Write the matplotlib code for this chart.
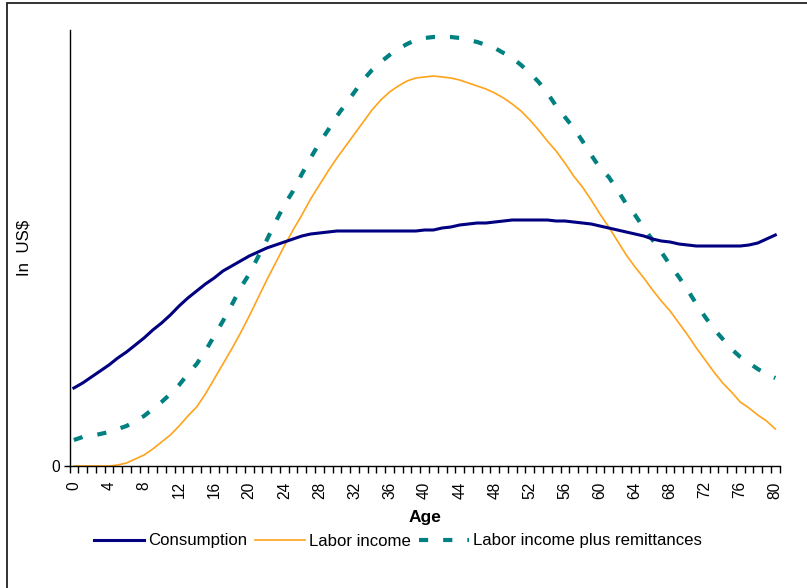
import matplotlib
matplotlib.use("Agg")
import matplotlib.pyplot as plt
from matplotlib.patches import Rectangle
from matplotlib.ticker import FixedLocator, NullFormatter

plt.rcParams['font.family'] = ['Liberation Sans', 'DejaVu Sans']

ages = list(range(0, 81))

consumption = [78, 83, 89, 95, 101, 108, 114, 121, 128, 136,
               143, 151, 160, 168, 175, 182, 188, 195, 200, 205,
               210, 214, 218, 221, 224, 227, 230, 232, 233, 234,
               235, 235, 235, 235, 235, 235, 235, 235, 235, 235,
               236, 236, 238, 239, 241, 242, 243, 243, 244, 245,
               246, 246, 246, 246, 246, 245, 245, 244, 243, 242,
               240, 238, 236, 234, 232, 230, 227, 225, 224, 222,
               221, 220, 220, 220, 220, 220, 220, 221, 223, 227,
               231]

labor_income = [0, 0, 0, 0, 0, 1, 3, 7, 11, 17,
                24, 31, 40, 50, 59, 72, 87, 102, 117, 133,
                150, 168, 186, 203, 220, 236, 251, 267, 281, 295,
                308, 320, 332, 344, 356, 366, 374, 380, 385, 388,
                389, 390, 389, 388, 386, 383, 380, 377, 373, 368,
                362, 355, 346, 336, 325, 315, 303, 290, 279, 266,
                252, 239, 225, 211, 199, 188, 176, 165, 155, 143,
                131, 118, 106, 94, 83, 74, 64, 58, 51, 45,
                37]

labor_plus_remit = [26, 29, 30, 32, 34, 37, 40, 45, 50, 57,
                    64, 72, 81, 92, 102, 115, 130, 145, 161, 178,
                    192, 209, 226, 244, 261, 275, 292, 308, 323, 336,
                    350, 362, 374, 386, 396, 404, 411, 417, 422, 426,
                    428, 429, 429, 429, 428, 426, 424, 421, 418, 413,
                    408, 401, 393, 384, 373, 360, 349, 338, 325, 311,
                    298, 289, 276, 262, 251, 238, 226, 214, 201, 189,
                    176, 162, 149, 137, 127, 117, 109, 103, 97, 92,
                    88]

series_names = ["Consumption", "Labor income", "Labor income plus remittances"]
xtick_labels = [str(a) for a in range(0, 81, 4)]

fig = plt.figure(figsize=(8.07, 5.88), dpi=100)
ax = fig.add_axes([69.5/807, 1-466/588, (779.7-69.5)/807, (466-30)/588])

ax.plot(ages, consumption, color='#000080', lw=2.2, label=series_names[0], zorder=3)
ax.plot(ages, labor_income, color='#FFA31A', lw=1.2, label=series_names[1], zorder=2)
ax.plot(ages, labor_plus_remit, color='#008080', lw=3.0,
        linestyle=(0, (2.2, 3.6)), label=series_names[2], zorder=2)

ax.set_xlim(-0.5, 80.5)
ax.set_ylim(0, 436)

ax.spines['top'].set_visible(False)
ax.spines['right'].set_visible(False)
for s in ('left', 'bottom'):
    ax.spines[s].set_linewidth(1.0)
    ax.spines[s].set_zorder(5)

ax.set_xticks(list(range(0, 81, 4)))
ax.set_xticklabels(xtick_labels, rotation=90, fontsize=11.2)
ax.xaxis.set_minor_locator(FixedLocator([k - 0.5 for k in range(0, 82)]))
ax.xaxis.set_minor_formatter(NullFormatter())
ax.tick_params(axis='x', which='major', length=0, pad=11)
ax.tick_params(axis='x', which='minor', length=5, width=1, direction='out')

ax.set_yticks([0])
ax.set_yticklabels(['0'], fontsize=11.2)
ax.tick_params(axis='y', length=4, width=1, pad=3)

ax.set_xlabel('Age', fontsize=12.5, fontweight='bold')
ax.xaxis.set_label_coords((425-69.5)/710, -(510-466)/436)
ax.set_ylabel('In  US$', fontsize=12.2)
ax.yaxis.set_label_coords(-38/710, (466-248)/436)

leg = fig.legend(loc='center', bbox_to_anchor=(398/807, 1-541/588), ncol=3,
                 frameon=False, fontsize=12.1, handlelength=2.95,
                 handletextpad=0.25, columnspacing=0.5)

fig.patches.append(Rectangle((7/807, -0.1), 1.2, 1-3/588+0.1, transform=fig.transFigure,
                             fill=False, edgecolor='#222222', lw=1.3))

fig.savefig('out.png', dpi=100)
